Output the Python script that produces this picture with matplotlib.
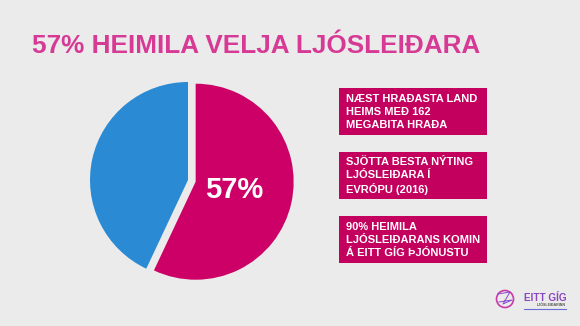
import matplotlib
matplotlib.use("Agg")
import matplotlib.pyplot as plt
from matplotlib.patches import Rectangle

# data
labels = ["Ljósleiðari", "Annað"]
shares = [57, 43]
pie_colors = ["#cc0066", "#2a8ad4"]
title = "57% HEIMILA VELJA LJÓSLEIÐARA"
facts = [
    "NÆST HRAÐASTA LAND\nHEIMS MEÐ 162\nMEGABITA HRAÐA",
    "SJÖTTA BESTA NÝTING\nLJÓSLEIÐARA Í\nEVRÓPU (2016)",
    "90% HEIMILA\nLJÓSLEIÐARANS KOMIN\nÁ EITT GÍG ÞJÓNUSTU",
]

W, H = 580, 326
bg = "#ebebeb"
plt.rcParams["font.family"] = ["Liberation Sans", "DejaVu Sans"]

fig = plt.figure(figsize=(W / 100, H / 100), dpi=100, facecolor=bg)

# overlay in pixel coords
ov = fig.add_axes([0, 0, 1, 1])
ov.set_xlim(0, W)
ov.set_ylim(H, 0)
ov.axis("off")

ov.text(32, 46, title, fontsize=18.8, fontweight="bold", color="#d63a94",
        ha="left", va="center")

# pie, centre at (188, 180) px, radius 98 px
cx, cy, r = 188, 180, 98
half = 1.2
ax = fig.add_axes([(cx - half * r) / W, (H - cy - half * r) / H,
                   2 * half * r / W, 2 * half * r / H])
ax.set_facecolor(bg)
wedges, texts, autotexts = ax.pie(
    shares, colors=pie_colors, startangle=90, counterclock=False,
    explode=[0.08, 0], radius=1,
    autopct=lambda p: f"{p:.0f}%" if p > 50 else "",
    pctdistance=0.4,
    textprops=dict(color="white", fontsize=21, fontweight="bold"),
)
ax.set_xlim(-half, half)
ax.set_ylim(-half, half)
ax.set_aspect("equal")
ax.axis("off")

# fact boxes
box_x, box_w, box_h = 339, 148, 47
box_tops = [88, 152, 216]
for top, txt in zip(box_tops, facts):
    ov.add_patch(Rectangle((box_x, top), box_w, box_h, facecolor="#c4005f",
                           edgecolor="none"))
    ov.text(box_x + 7, top + box_h / 2 + 0.5, txt, color="white", fontsize=8,
            fontweight="bold", ha="left", va="center", linespacing=1.32)

# logo
ov.add_patch(plt.Circle((505, 299), 8.5, facecolor="none", edgecolor="#c83aa8",
                        linewidth=1.2))
ov.plot([498, 510, 503, 512, 499], [294, 292, 304, 300, 302],
        color="#8a4bd0", linewidth=0.7)
ov.text(524, 298, "EITT GÍG", color="#8a48c0", fontsize=7.2,
        fontweight="bold", ha="left", va="center")
ov.text(566, 304.5, "LJÓSLEIÐARINN", color="#555555", fontsize=2.6,
        fontweight="bold", ha="right", va="center")
ov.plot([524, 566], [309, 309], color="#6a6ad8", linewidth=0.8)

fig.savefig("out.png", dpi=100, facecolor=bg)
